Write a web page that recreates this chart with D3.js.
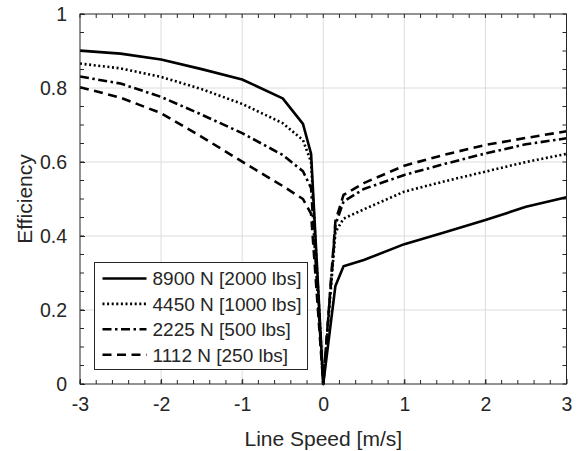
<!DOCTYPE html>
<html lang="en">
	<head>
		<meta charset="UTF-8">
		<title>Efficiency vs Line Speed</title>
		<style>
			body, html {
				margin: 0;
				padding: 0;
				background-color: #ffffff;
			}
			text {
				font-family: "Liberation Sans", Arial, sans-serif;
				fill: #262626;
			}
		</style>
	</head>
	<body>
		<svg id="svg" width="587" height="451"></svg>

		<script src="https://d3js.org/d3.v7.min.js"></script>
		<script>
			// line speed [m/s]
			const speeds = [-3, -2.5, -2, -1.5, -1, -0.5, -0.25, -0.15, 0, 0.15, 0.25, 0.5, 1, 1.5, 2, 2.5, 3]

			const eff8900 = [0.901, 0.893, 0.877, 0.851, 0.823, 0.772, 0.703, 0.622, 0, 0.265, 0.318, 0.335, 0.378, 0.410, 0.443, 0.479, 0.505]
			const eff4450 = [0.866, 0.853, 0.830, 0.797, 0.757, 0.705, 0.659, 0.600, 0, 0.410, 0.447, 0.472, 0.520, 0.548, 0.574, 0.600, 0.622]
			const eff2225 = [0.831, 0.812, 0.776, 0.728, 0.678, 0.619, 0.575, 0.530, 0, 0.430, 0.493, 0.527, 0.565, 0.595, 0.623, 0.648, 0.664]
			const eff1112 = [0.802, 0.774, 0.732, 0.668, 0.601, 0.535, 0.500, 0.460, 0, 0.440, 0.511, 0.543, 0.590, 0.620, 0.646, 0.665, 0.683]

			const seriesNames = ['8900 N [2000 lbs]', '4450 N [1000 lbs]', '2225 N [500 lbs]', '1112 N [250 lbs]']
			const xTicks = [-3, -2, -1, 0, 1, 2, 3]
			const yTicks = [0, 0.2, 0.4, 0.6, 0.8, 1]

			const series = [
				{name: seriesNames[0], values: eff8900, dash: null},
				{name: seriesNames[1], values: eff4450, dash: '2,2.6'},
				{name: seriesNames[2], values: eff2225, dash: '9,3.5,2.5,3.5'},
				{name: seriesNames[3], values: eff1112, dash: '9,5.5'}
			]

			const pLeft = 80, pRight = 566.5, pTop = 14, pBottom = 384
			const ink = '#262626'
			const font = '"Liberation Sans", Arial, sans-serif'

			const x = d3.scaleLinear().domain([-3, 3]).range([pLeft, pRight])
			const y = d3.scaleLinear().domain([0, 1]).range([pBottom, pTop])

			const svg = d3.select('#svg')

			// grid
			svg.append('g')
				.selectAll('line.gx')
				.data(xTicks.slice(1, -1))
				.enter()
				.append('line')
				.attr('x1', d => x(d)).attr('x2', d => x(d))
				.attr('y1', pTop).attr('y2', pBottom)
				.attr('stroke', '#dcdcdc').attr('stroke-width', 1)
			svg.append('g')
				.selectAll('line.gy')
				.data(yTicks.slice(1, -1))
				.enter()
				.append('line')
				.attr('x1', pLeft).attr('x2', pRight)
				.attr('y1', d => y(d)).attr('y2', d => y(d))
				.attr('stroke', '#dcdcdc').attr('stroke-width', 1)

			// axes: ticks inward, on all four sides
			const xMinor = d3.range(-3, 3.001, 0.2)
			const yMinor = d3.range(0, 1.001, 0.05)

			// plain hyphen for negatives, like the original
			const bottomAxis = d3.axisBottom(x).tickValues(xTicks).tickFormat(d => String(d)).tickSizeInner(-5).tickSizeOuter(0).tickPadding(15)
			const leftAxis = d3.axisLeft(y).tickValues(yTicks).tickFormat(d => d === 0 || d === 1 ? d : d.toFixed(1)).tickSizeInner(-5).tickSizeOuter(0).tickPadding(13)

			const gx = svg.append('g').attr('transform', `translate(0,${pBottom})`).call(bottomAxis)
			const gy = svg.append('g').attr('transform', `translate(${pLeft},0)`).call(leftAxis)
			;[gx, gy].forEach(g => {
				g.select('.domain').remove()
				g.selectAll('line').attr('stroke', ink)
				g.selectAll('text').attr('font-size', 19.5).attr('fill', ink).style('font-family', font)
			})
			gx.selectAll('text').attr('dy', '0.6em')

			// minor + top/right ticks
			const tk = svg.append('g').attr('stroke', ink).attr('stroke-width', 1)
			xMinor.forEach(v => {
				tk.append('line').attr('x1', x(v)).attr('x2', x(v)).attr('y1', pBottom).attr('y2', pBottom - 4)
				tk.append('line').attr('x1', x(v)).attr('x2', x(v)).attr('y1', pTop).attr('y2', pTop + 4)
			})
			yMinor.forEach(v => {
				tk.append('line').attr('x1', pLeft).attr('x2', pLeft + 4).attr('y1', y(v)).attr('y2', y(v))
				tk.append('line').attr('x1', pRight).attr('x2', pRight - 4).attr('y1', y(v)).attr('y2', y(v))
			})

			// data lines
			const line = d3.line()
				.x((d, i) => x(speeds[i]))
				.y(d => y(d))

			svg.append('g')
				.selectAll('path')
				.data(series)
				.enter()
				.append('path')
				.attr('d', d => line(d.values))
				.attr('fill', 'none')
				.attr('stroke', '#000')
				.attr('stroke-width', 2.6)
				.attr('stroke-linejoin', 'round')
				.attr('stroke-dasharray', d => d.dash)

			// box
			svg.append('rect')
				.attr('x', pLeft).attr('y', pTop)
				.attr('width', pRight - pLeft).attr('height', pBottom - pTop)
				.attr('fill', 'none').attr('stroke', ink).attr('stroke-width', 1)

			// axis labels
			svg.append('text')
				.attr('x', (pLeft + pRight) / 2).attr('y', 446)
				.attr('text-anchor', 'middle')
				.attr('font-size', 21)
				.text('Line Speed [m/s]')
			svg.append('text')
				.attr('transform', `translate(32,${(pTop + pBottom) / 2}) rotate(-90)`)
				.attr('text-anchor', 'middle')
				.attr('font-size', 21)
				.text('Efficiency')

			// legend
			const lg = svg.append('g').attr('transform', 'translate(94.5,262.5)')
			lg.append('rect')
				.attr('width', 213).attr('height', 107)
				.attr('fill', '#fff').attr('stroke', ink).attr('stroke-width', 1)
			const row = lg.selectAll('g.row')
				.data(series)
				.enter()
				.append('g')
				.attr('transform', (d, i) => `translate(0,${16 + i * 25.4})`)
			row.append('line')
				.attr('x1', 8).attr('x2', 52)
				.attr('stroke', '#000').attr('stroke-width', 2.6)
				.attr('stroke-dasharray', d => d.dash)
			row.append('text')
				.attr('x', 58).attr('dy', '0.36em')
				.attr('font-size', 19)
				.text(d => d.name)
		</script>
	</body>
</html>
